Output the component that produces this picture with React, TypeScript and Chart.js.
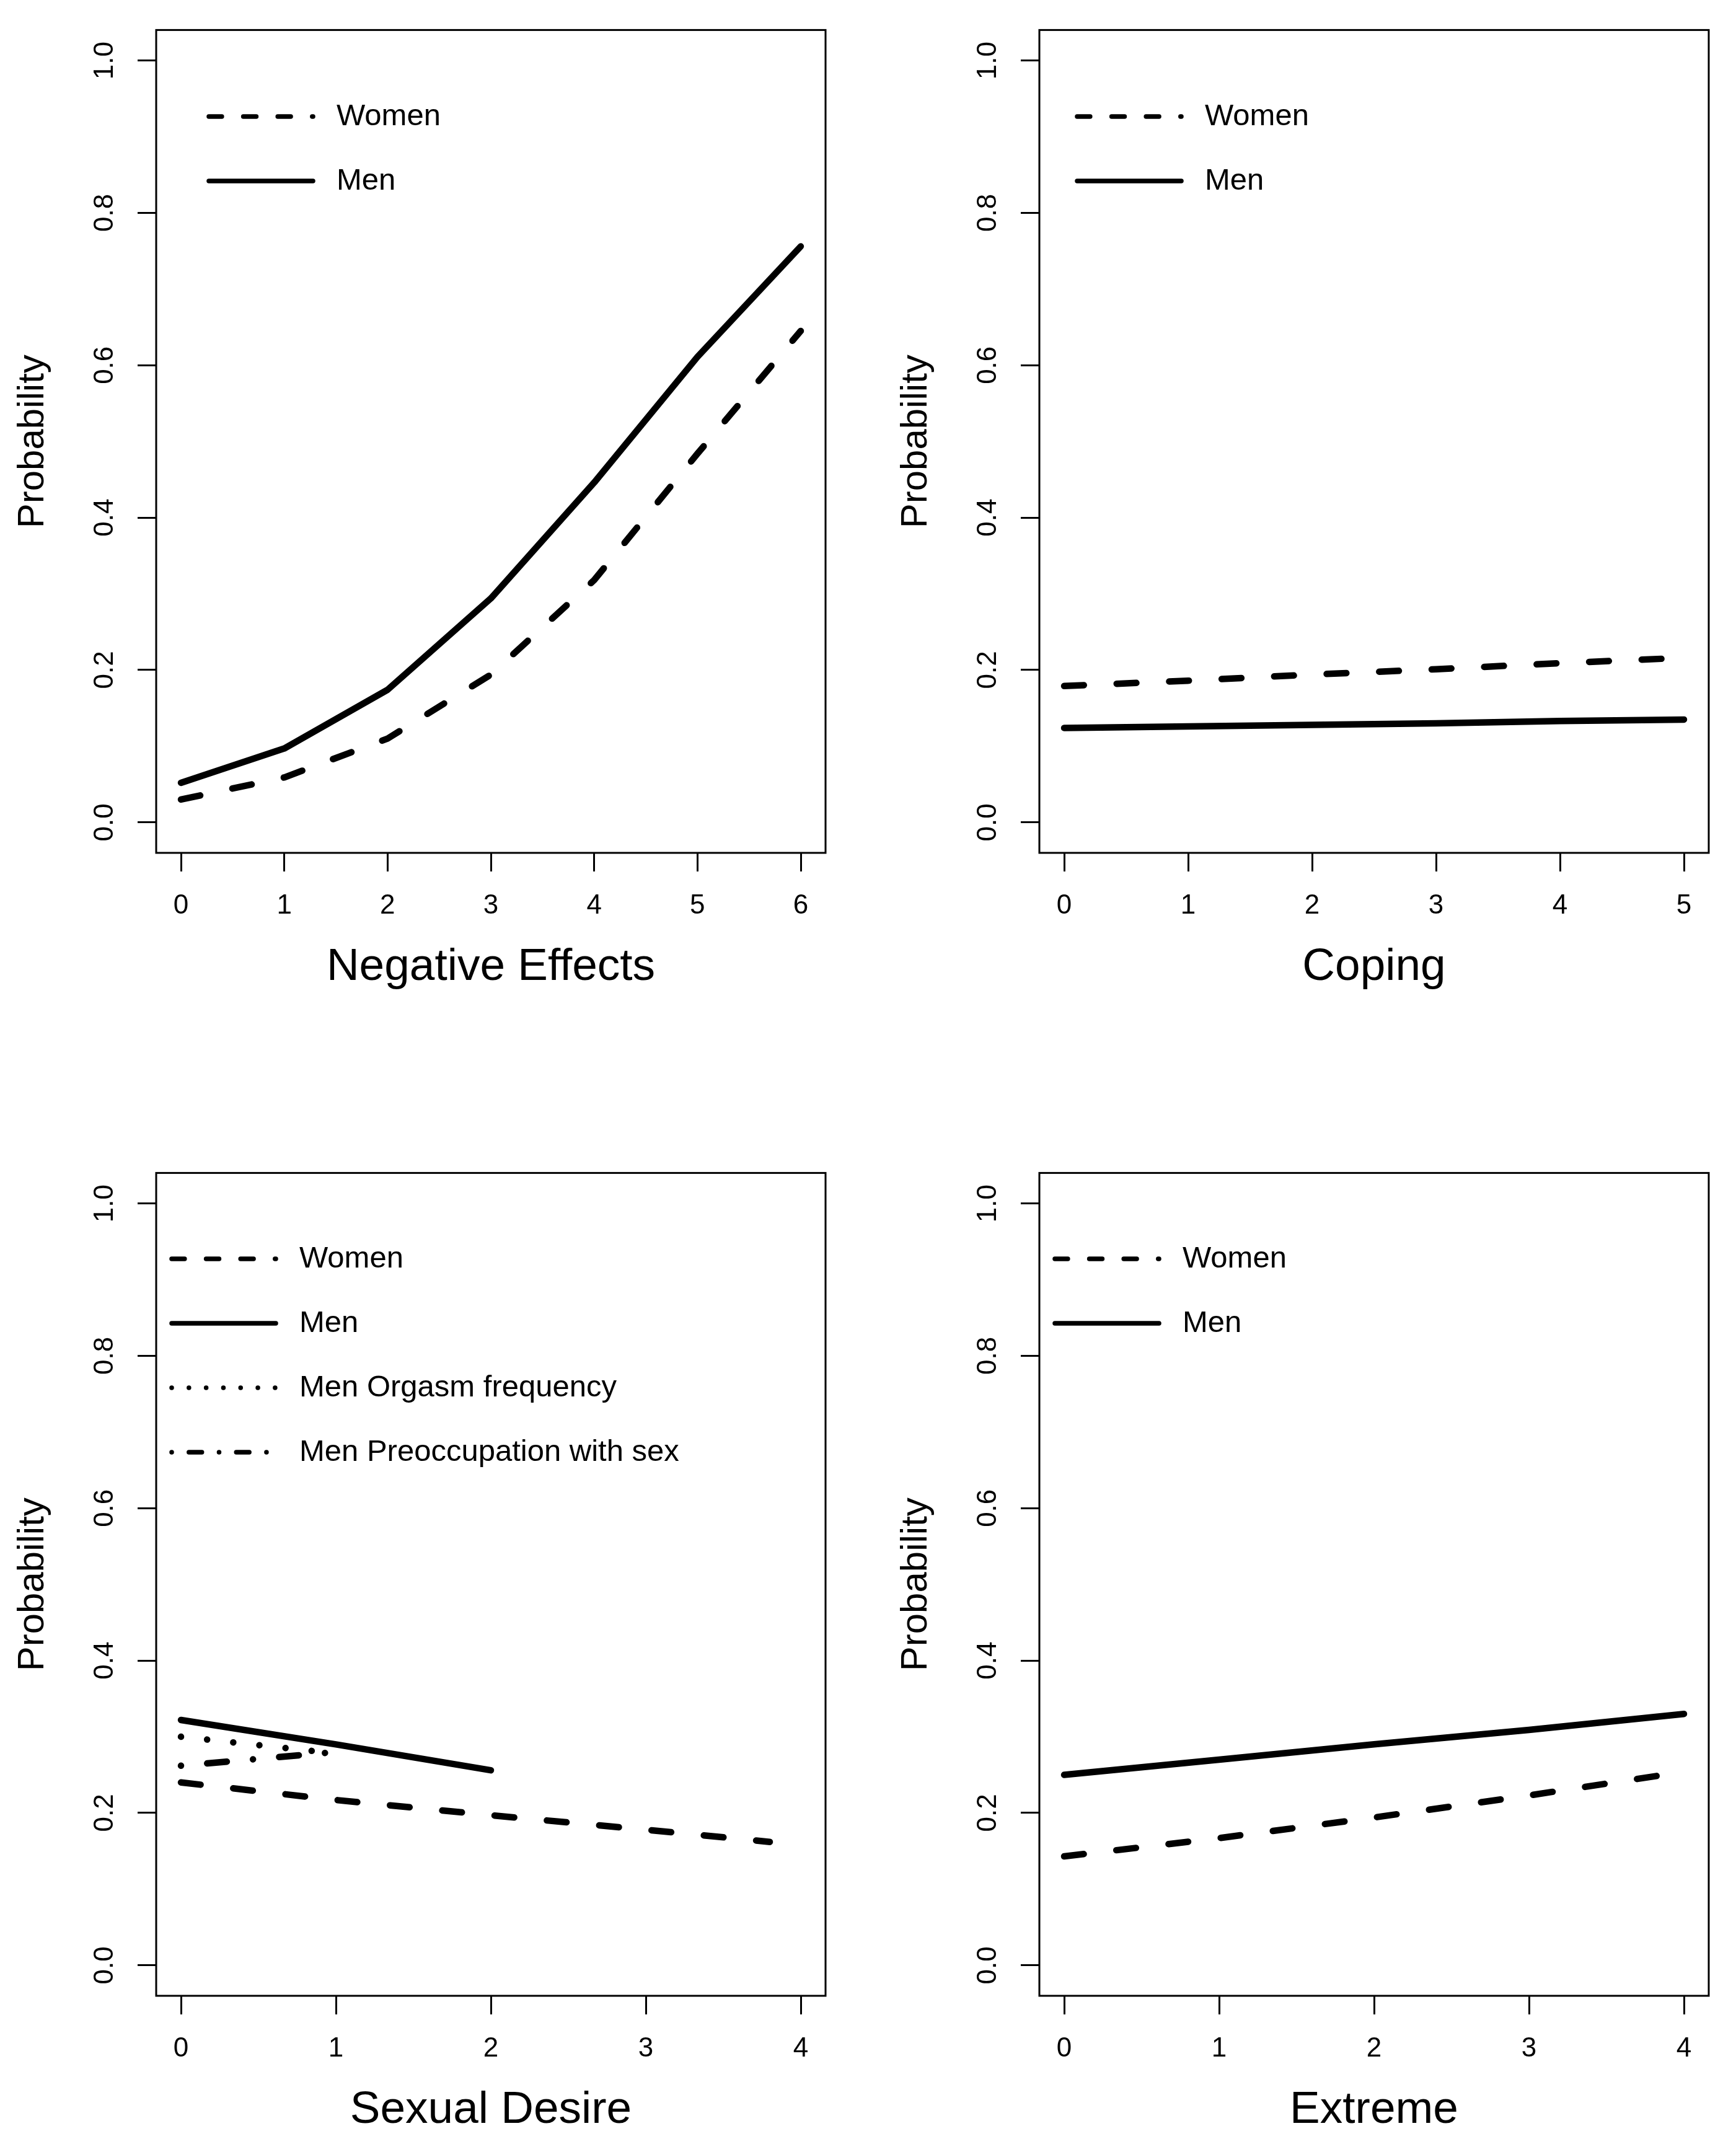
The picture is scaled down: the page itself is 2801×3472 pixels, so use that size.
import { useEffect, useRef } from "react";
import { Chart, registerables } from "chart.js";
import type { ChartConfiguration, Plugin } from "chart.js";

Chart.register(...registerables);

// ---- data ----
const probTicks = [0, 0.2, 0.4, 0.6, 0.8, 1.0];

const negEffectsTicks = [0, 1, 2, 3, 4, 5, 6];
const negEffectsX = [0, 1, 2, 3, 4, 5, 6];
const negEffectsWomen = [0.03, 0.059, 0.11, 0.194, 0.318, 0.484, 0.645];
const negEffectsMen = [0.052, 0.097, 0.174, 0.294, 0.446, 0.611, 0.756];

const copingTicks = [0, 1, 2, 3, 4, 5];
const copingX = [0, 1, 2, 3, 4, 5];
const copingWomen = [0.179, 0.186, 0.194, 0.201, 0.209, 0.216];
const copingMen = [0.124, 0.126, 0.128, 0.13, 0.133, 0.135];

const desireTicks = [0, 1, 2, 3, 4];
const desireWomenX = [0, 1, 2, 3, 3.8];
const desireWomen = [0.24, 0.217, 0.197, 0.178, 0.162];
const desireMenX = [0, 1, 2];
const desireMen = [0.322, 0.29, 0.256];
const desireOrgasmX = [0, 1];
const desireOrgasm = [0.3, 0.278];
const desirePreoccX = [0, 1];
const desirePreocc = [0.262, 0.28];

const extremeTicks = [0, 1, 2, 3, 4];
const extremeX = [0, 1, 2, 3, 4];
const extremeWomen = [0.143, 0.167, 0.194, 0.223, 0.254];
const extremeMen = [0.25, 0.27, 0.29, 0.309, 0.33];

// ---- look ----
const FONT = "'Liberation Sans', Arial, Helvetica, sans-serif";
const PANEL_W = 1376;
const PANEL_H = 1620;
const BOX = { left: 252, top: 44, right: 1332, bottom: 1376 };
const LINE_W = 10.5;
const LINE_UNIT = 10.6;
const LEGEND_W = 7.5;
const LEGEND_UNIT = 6.95;
const LEGEND_LEN = 168;
const LEGEND_ROW = 104;

type Lty = "solid" | "dashed" | "dotted" | "dotdash";

interface Series {
  label: string;
  lty: Lty;
  x: number[];
  y: number[];
}

interface Panel {
  title: string;
  xTicks: number[];
  series: Series[];
  left: number;
  top: number;
  legendX: number;
  legendY: number;
}

// R line types, with round caps the "on" parts grow by one line width
function dashFor(lty: Lty, u: number): number[] {
  switch (lty) {
    case "dashed":
      return [3 * u, 5 * u];
    case "dotted":
      return [0.01, 4 * u];
    case "dotdash":
      return [0.01, 4 * u, 3 * u, 4 * u];
    default:
      return [];
  }
}

const panels: Panel[] = [
  {
    title: "Negative Effects",
    xTicks: negEffectsTicks,
    series: [
      { label: "Women", lty: "dashed", x: negEffectsX, y: negEffectsWomen },
      { label: "Men", lty: "solid", x: negEffectsX, y: negEffectsMen },
    ],
    left: 0,
    top: 0,
    legendX: 337,
    legendY: 188,
  },
  {
    title: "Coping",
    xTicks: copingTicks,
    series: [
      { label: "Women", lty: "dashed", x: copingX, y: copingWomen },
      { label: "Men", lty: "solid", x: copingX, y: copingMen },
    ],
    left: 1425,
    top: 0,
    legendX: 313,
    legendY: 188,
  },
  {
    title: "Sexual Desire",
    xTicks: desireTicks,
    series: [
      { label: "Women", lty: "dashed", x: desireWomenX, y: desireWomen },
      { label: "Men", lty: "solid", x: desireMenX, y: desireMen },
      { label: "Men Orgasm frequency", lty: "dotted", x: desireOrgasmX, y: desireOrgasm },
      { label: "Men Preoccupation with sex", lty: "dotdash", x: desirePreoccX, y: desirePreocc },
    ],
    left: 0,
    top: 1844,
    legendX: 277,
    legendY: 187,
  },
  {
    title: "Extreme",
    xTicks: extremeTicks,
    series: [
      { label: "Women", lty: "dashed", x: extremeX, y: extremeWomen },
      { label: "Men", lty: "solid", x: extremeX, y: extremeMen },
    ],
    left: 1425,
    top: 1844,
    legendX: 277,
    legendY: 187,
  },
];

// box around the plot region plus an R-style legend
const rFrame: Plugin = {
  id: "rFrame",
  afterDraw(chart, _args, opts: any) {
    const { ctx, chartArea } = chart;
    ctx.save();
    ctx.strokeStyle = "#000";
    ctx.lineWidth = 3;
    ctx.strokeRect(
      chartArea.left,
      chartArea.top,
      chartArea.right - chartArea.left,
      chartArea.bottom - chartArea.top
    );
    chart.data.datasets.forEach((ds: any, i) => {
      const y = opts.y + i * LEGEND_ROW;
      ctx.beginPath();
      ctx.setLineDash(dashFor(ds.lty, LEGEND_UNIT));
      ctx.lineCap = "round";
      ctx.lineWidth = LEGEND_W;
      ctx.moveTo(opts.x, y);
      ctx.lineTo(opts.x + LEGEND_LEN, y);
      ctx.stroke();
      ctx.setLineDash([]);
      ctx.fillStyle = "#000";
      ctx.font = `49px ${FONT}`;
      ctx.textBaseline = "middle";
      ctx.textAlign = "left";
      ctx.fillText(ds.label, opts.x + LEGEND_LEN + 38, y);
    });
    ctx.restore();
  },
};

const tickGrid = {
  display: true,
  drawOnChartArea: false,
  drawTicks: true,
  tickLength: 30,
  tickWidth: 3,
  tickColor: "#000",
  color: "#000",
  lineWidth: 3,
};

function buildConfig(panel: Panel): ChartConfiguration {
  const xMin = panel.xTicks[0];
  const xMax = panel.xTicks[panel.xTicks.length - 1];
  const xPad = (xMax - xMin) * 0.04;

  return {
    type: "line",
    data: {
      datasets: panel.series.map((s) => ({
        label: s.label,
        lty: s.lty,
        data: s.x.map((x, i) => ({ x, y: s.y[i] })),
        borderColor: "#000",
        borderWidth: LINE_W,
        borderDash: dashFor(s.lty, LINE_UNIT),
        borderCapStyle: "round",
        borderJoinStyle: "round",
        pointRadius: 0,
        tension: 0,
        fill: false,
      })) as any,
    },
    options: {
      animation: false,
      responsive: true,
      maintainAspectRatio: false,
      events: [],
      layout: {
        padding: { top: BOX.top, right: PANEL_W - BOX.right, left: 0, bottom: 0 },
      },
      plugins: {
        legend: { display: false },
        tooltip: { enabled: false },
        rFrame: { x: panel.legendX, y: panel.legendY },
      } as any,
      scales: {
        x: {
          type: "linear",
          position: "bottom",
          min: xMin - xPad,
          max: xMax + xPad,
          bounds: "data",
          afterBuildTicks: (scale) => {
            scale.ticks = panel.xTicks.map((v) => ({ value: v }));
          },
          afterFit: (scale) => {
            scale.height = PANEL_H - BOX.bottom;
          },
          grid: tickGrid,
          border: { display: false },
          ticks: {
            color: "#000",
            font: { family: FONT, size: 44, lineHeight: 1.2 },
            padding: 29,
            maxRotation: 0,
            autoSkip: false,
            callback: (v) => String(v),
          },
          title: {
            display: true,
            text: panel.title,
            color: "#000",
            font: { family: FONT, size: 73, lineHeight: 1.2 },
            padding: { top: 0, bottom: 15 },
          },
        },
        y: {
          type: "linear",
          position: "left",
          min: -0.04,
          max: 1.04,
          bounds: "data",
          afterBuildTicks: (scale) => {
            scale.ticks = probTicks.map((v) => ({ value: v }));
          },
          afterFit: (scale) => {
            scale.width = BOX.left;
          },
          grid: tickGrid,
          border: { display: false },
          ticks: {
            color: "#000",
            font: { family: FONT, size: 44, lineHeight: 1.2 },
            padding: 22,
            minRotation: 90,
            maxRotation: 90,
            crossAlign: "center",
            autoSkip: false,
            callback: (v) => Number(v).toFixed(1),
          },
          title: {
            display: true,
            text: "Probability",
            color: "#000",
            font: { family: FONT, size: 60, lineHeight: 1.2 },
            padding: { top: 17, bottom: 0 },
          },
        },
      },
    },
    plugins: [rFrame],
  };
}

function PanelChart({ panel }: { panel: Panel }) {
  const canvasRef = useRef<HTMLCanvasElement>(null);

  useEffect(() => {
    if (!canvasRef.current) return;
    const chart = new Chart(canvasRef.current, buildConfig(panel));
    return () => chart.destroy();
  }, [panel]);

  return (
    <div
      style={{
        position: "absolute",
        left: panel.left,
        top: panel.top,
        width: PANEL_W,
        height: PANEL_H,
      }}
    >
      <canvas ref={canvasRef}></canvas>
    </div>
  );
}

export default function App() {
  return (
    <div
      style={{
        position: "absolute",
        left: 0,
        top: 0,
        width: 2801,
        height: 3472,
        background: "#fff",
        overflow: "hidden",
      }}
    >
      {panels.map((p) => (
        <PanelChart key={p.title} panel={p} />
      ))}
    </div>
  );
}
